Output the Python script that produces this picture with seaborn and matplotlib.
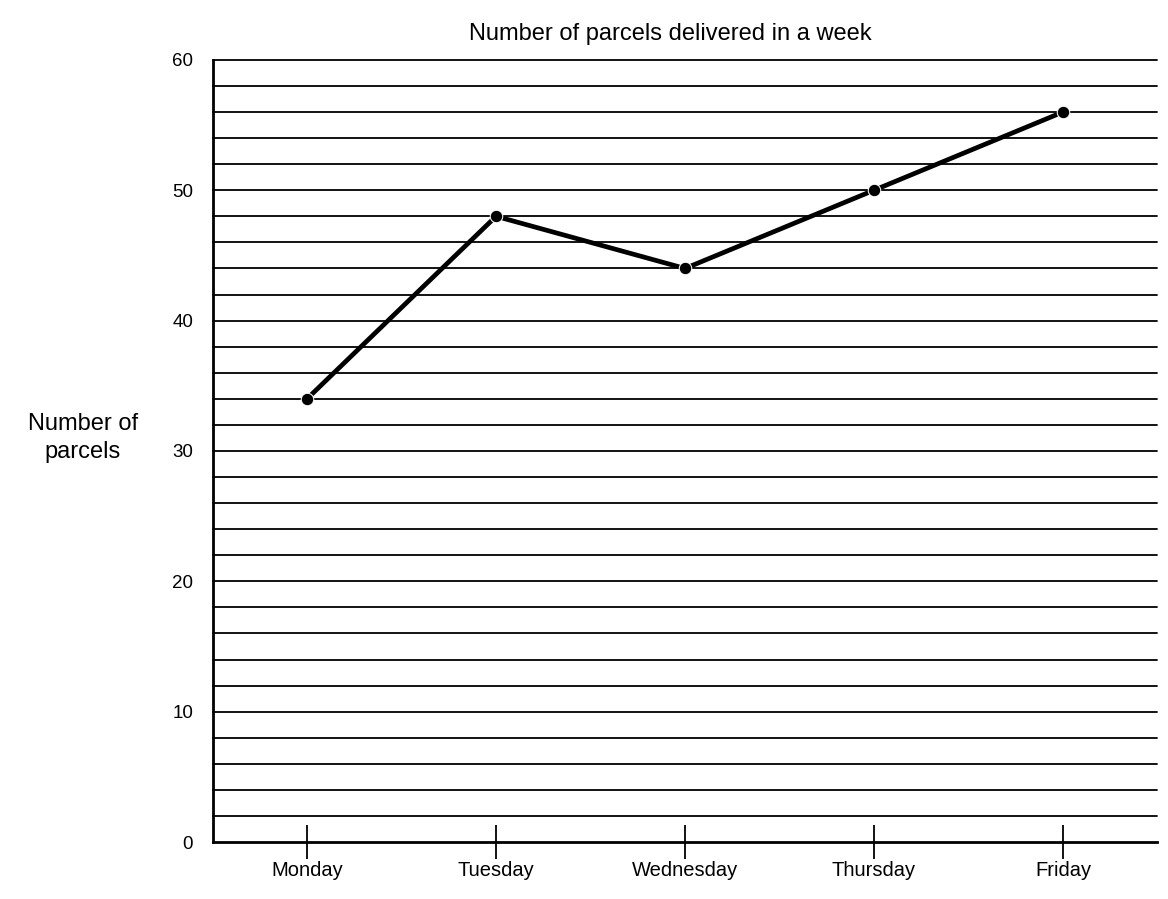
import matplotlib
matplotlib.use("Agg")
import matplotlib.pyplot as plt
import seaborn as sns
import pandas as pd
import numpy as np

days = ["Monday", "Tuesday", "Wednesday", "Thursday", "Friday"]
parcels = [34, 48, 44, 50, 56]
y_ticks = [0, 10, 20, 30, 40, 50, 60]

sns.set_theme(style="white")
plt.rcParams['font.family'] = ['Liberation Sans', 'DejaVu Sans']
plt.rcParams['text.color'] = 'black'
plt.rcParams['xtick.color'] = 'black'
plt.rcParams['ytick.color'] = 'black'

df = pd.DataFrame({"day": days, "parcels": parcels})

fig = plt.figure(figsize=(11.68, 8.99), dpi=100)
ax = fig.add_axes([0.182, 0.0634, 0.809, 0.87])

# horizontal ruled grid every 2 units
for v in np.arange(2, 61, 2):
    ax.axhline(v, color="black", linewidth=1.3, zorder=1, clip_on=False)

sns.lineplot(data=df, x="day", y="parcels", ax=ax, color="black",
             linewidth=3.4, marker="o", markersize=9, zorder=3, sort=False)

ax.set_xlim(-0.5, 4.5)
ax.set_ylim(0, 60)
ax.set_yticks(y_ticks)
ax.set_yticklabels([str(t) for t in y_ticks], fontsize=13.5,
                   family=['Liberation Sans Narrow', 'Liberation Sans', 'DejaVu Sans'])
ax.set_xticks(range(len(days)))
ax.set_xticklabels(days, fontsize=14.5,
                   family=['Liberation Sans Narrow', 'Liberation Sans', 'DejaVu Sans'])
ax.tick_params(axis="x", bottom=True, direction="inout", length=24, width=1.3,
               color="black", labelcolor="black", pad=2)
ax.tick_params(axis="y", left=False, length=0, pad=14, labelcolor="black")

for s in ["top", "right"]:
    ax.spines[s].set_visible(False)
for s in ["left", "bottom"]:
    ax.spines[s].set_color("black")
    ax.spines[s].set_linewidth(2)

ax.set_xlabel("")
ax.set_ylabel("")
fig.text(0.574, 0.962, "Number of parcels delivered in a week", ha="center",
         va="center", fontsize=17, color="black")
fig.text(0.071, 0.513, "Number of\nparcels", ha="center", va="center",
         fontsize=17, linespacing=1.35, color="black")

fig.savefig("out.png", dpi=100)
